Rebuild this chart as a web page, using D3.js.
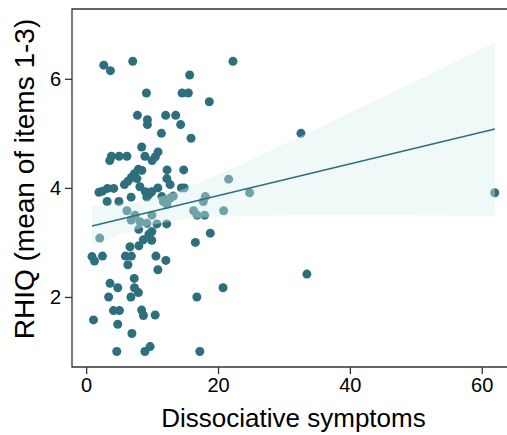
<!DOCTYPE html>
<head>
  <meta charset="utf-8">
  <script src="https://d3js.org/d3.v7.min.js"></script>
  <style>
    body { margin:0; background:#fff; font-family: "Liberation Sans", Arial, sans-serif; }
  </style>
</head>
<body>
  <script>
    // dissociative symptoms (x) and RHIQ mean (y)
    var dissoc = [2.67, 3.68, 7.06, 22.27, 15.70, 9.14, 14.55, 15.50, 18.68, 7.77,
      9.29, 9.29, 12.06, 13.58, 14.33, 11.41, 15.91, 32.58, 8.42, 3.83,
      5.00, 6.18, 8.91, 10.91, 10.50, 10.00, 3.58, 12.27, 14.79, 8.45,
      7.92, 7.32, 6.86, 6.33, 5.80, 7.70, 8.15, 12.24, 21.61, 1.94,
      2.47, 3.23, 4.18, 8.98, 9.59, 9.21, 9.94, 10.88, 14.44, 14.89,
      12.73, 11.48, 6.82, 3.18, 4.97, 13.23, 12.73, 11.71, 12.24, 6.18,
      7.42, 6.82, 9.21, 9.97, 8.15, 10.73, 12.21, 18.08, 17.77, 16.30,
      16.82, 17.97, 20.85, 24.79, 61.97, 2.06, 7.97, 9.52, 9.97, 8.68,
      9.94, 8.00, 6.64, 16.56, 18.83, 0.88, 1.26, 2.47, 5.95, 6.86,
      6.33, 10.58, 12.09, 10.88, 7.29, 3.61, 4.79, 7.32, 7.92, 6.79,
      3.41, 20.76, 16.79, 33.48, 4.14, 5.05, 8.42, 8.68, 10.47, 1.11,
      4.79, 6.94, 4.64, 8.91, 9.70, 17.24];
    var rhiq = [6.25, 6.15, 6.32, 6.32, 6.07, 5.74, 5.74, 5.74, 5.58, 5.33,
      5.25, 5.16, 5.33, 5.33, 5.16, 5.00, 4.91, 5.00, 4.75, 4.58,
      4.58, 4.58, 4.58, 4.66, 4.57, 4.50, 4.50, 4.33, 4.33, 4.32,
      4.34, 4.26, 4.19, 4.12, 4.06, 4.17, 4.02, 4.17, 4.16, 3.92,
      3.94, 3.99, 3.99, 3.93, 3.89, 3.83, 3.93, 4.00, 4.00, 4.00,
      4.06, 3.84, 3.83, 3.75, 3.75, 3.85, 3.81, 3.75, 3.70, 3.58,
      3.50, 3.41, 3.35, 3.50, 3.38, 3.34, 3.34, 3.84, 3.75, 3.58,
      3.50, 3.50, 3.58, 3.91, 3.91, 3.08, 3.24, 3.15, 3.20, 3.05,
      3.04, 2.94, 2.92, 3.00, 3.17, 2.74, 2.66, 2.75, 2.75, 2.75,
      2.59, 2.75, 2.67, 2.50, 2.34, 2.25, 2.17, 2.17, 2.08, 2.00,
      2.00, 2.17, 2.00, 2.42, 1.75, 1.75, 1.76, 1.66, 1.67, 1.58,
      1.50, 1.33, 1.00, 1.00, 1.09, 1.00];

    // fitted line and its confidence band
    var bandX  = [0.9, 5, 10, 15, 20, 30, 40, 50, 62];
    var bandLo = [2.93, 3.13, 3.32, 3.42, 3.47, 3.50, 3.50, 3.50, 3.49];
    var bandHi = [3.66, 3.70, 3.80, 3.99, 4.24, 4.80, 5.38, 5.96, 6.67];
    var fitX = [0.9, 62];
    var fitY = [3.30, 5.08];

    var xTicks = [0, 20, 40, 60];
    var yTicks = [2, 4, 6];

    var width = 507, height = 435;
    var pLeft = 72, pRight = 515, pTop = 9, pBottom = 367;
    var teal = "#2e6f7e";

    var svg = d3.select("body").append("svg")
      .attr("width", width)
      .attr("height", height);

    var x = d3.scaleLinear().domain([-2.15, 65.05]).range([pLeft, pRight]);
    var y = d3.scaleLinear().domain([0.716, 7.28]).range([pBottom, pTop]);

    var pts = dissoc.map(function(d, i) { return { x: d, y: rhiq[i] }; });

    svg.append("g").selectAll("circle")
      .data(pts)
      .enter().append("circle")
      .attr("cx", function(d) { return x(d.x); })
      .attr("cy", function(d) { return y(d.y); })
      .attr("r", 4.5)
      .style("fill", teal);

    var band = bandX.map(function(d, i) { return { x: d, lo: bandLo[i], hi: bandHi[i] }; });
    var area = d3.area()
      .curve(d3.curveMonotoneX)
      .x(function(d) { return x(d.x); })
      .y0(function(d) { return y(d.lo); })
      .y1(function(d) { return y(d.hi); });

    svg.append("path")
      .datum(band)
      .attr("d", area)
      .style("fill", "rgb(215,240,235)")
      .style("fill-opacity", 0.4);

    var line = d3.line()
      .x(function(d) { return x(d[0]); })
      .y(function(d) { return y(d[1]); });

    svg.append("path")
      .datum(fitX.map(function(d, i) { return [d, fitY[i]]; }))
      .attr("d", line)
      .style("fill", "none")
      .style("stroke", teal)
      .style("stroke-width", 1.5);

    // axes
    var xaxis = d3.axisBottom(x).tickValues(xTicks).tickSize(7).tickPadding(4).tickFormat(d3.format("d"));
    var yaxis = d3.axisLeft(y).tickValues(yTicks).tickSize(7).tickPadding(4).tickFormat(d3.format("d"));

    var gx = svg.append("g")
      .attr("transform", "translate(0," + pBottom + ")")
      .call(xaxis);
    var gy = svg.append("g")
      .attr("transform", "translate(" + pLeft + ",0)")
      .call(yaxis);

    [gx, gy].forEach(function(g) {
      g.select(".domain").remove();
      g.selectAll("line").style("stroke", "#333").style("stroke-width", 1.3);
      g.selectAll("text")
        .style("font-family", '"Liberation Sans", Arial, sans-serif')
        .style("font-size", "20px")
        .style("fill", "#000");
    });

    // panel frame (right side falls outside the picture)
    svg.append("path")
      .attr("d", "M" + pRight + "," + pTop + "H" + pLeft + "V" + pBottom + "H" + pRight)
      .style("fill", "none")
      .style("stroke", "#333")
      .style("stroke-width", 1.3);

    svg.append("text")
      .text("Dissociative symptoms")
      .attr("x", (pLeft + pRight) / 2)
      .attr("y", 427)
      .attr("text-anchor", "middle")
      .style("font-size", "26px")
      .style("fill", "#000");

    svg.append("text")
      .text("RHIQ (mean of items 1-3)")
      .attr("text-anchor", "middle")
      .attr("transform", "translate(34,179) rotate(-90)")
      .style("font-size", "28px")
      .style("fill", "#000");
  </script>
</body>
